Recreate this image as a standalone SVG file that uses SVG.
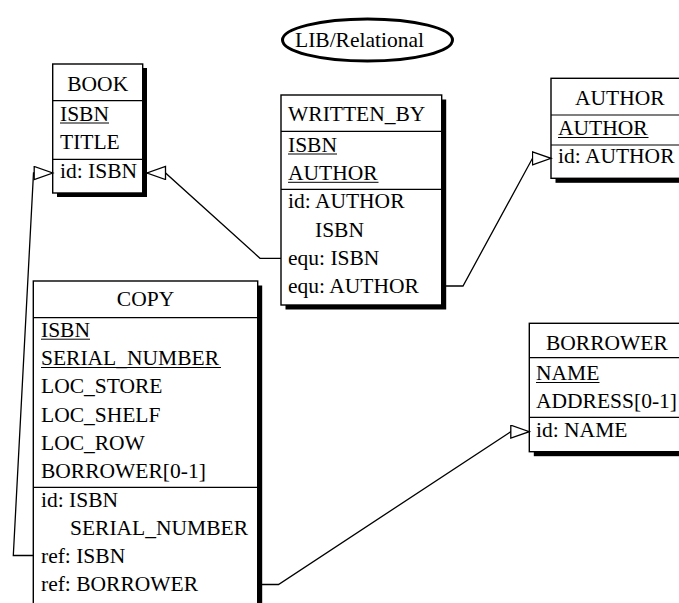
<svg xmlns="http://www.w3.org/2000/svg" width="679" height="603" viewBox="0 0 679 603" font-family="'Liberation Serif', 'Times New Roman', Times, serif" font-size="21.5">
<style>
text{font-family:"Liberation Serif","Times New Roman",Times,serif;font-size:21.5px;fill:#000}
.box{fill:#fff;stroke:#000;stroke-width:1.4}
.sh{fill:#000}
.sep{stroke:#000;stroke-width:1.2}
.ul{stroke:#000;stroke-width:1}
.hd{text-anchor:middle}
.c{fill:none;stroke:#000;stroke-width:1.3}
</style>
<defs>
<marker id="tri" markerUnits="userSpaceOnUse" markerWidth="22" markerHeight="16" viewBox="0 0 22 16" refX="19.5" refY="7" orient="auto">
<path d="M1,0.5 L19.5,7 L1,13.5 Z" fill="#fff" stroke="#000" stroke-width="1.3"/>
</marker>
</defs>
<rect width="679" height="603" fill="#fff"/>
<g id="title">
<ellipse cx="367.5" cy="40" rx="85" ry="21" fill="#fff" stroke="#000" stroke-width="3"/>
<text x="295" y="46.5">LIB/Relational</text>
</g>
<g id="BOOK">
<rect class="sh" x="57" y="68" width="90" height="129"/>
<rect class="box" x="52.7" y="64" width="90" height="129"/>
<line class="sep" x1="52.7" y1="100.6" x2="142.7" y2="100.6"/>
<line class="sep" x1="52.7" y1="159.3" x2="142.7" y2="159.3"/>
<text class="hd" x="97.7" y="91">BOOK</text>
<text x="60" y="120.5">ISBN</text>
<line class="ul" x1="60" y1="123" x2="109" y2="123"/>
<text x="60" y="148.8">TITLE</text>
<text x="60" y="177.6">id: ISBN</text>
</g>
<g id="WRITTEN_BY">
<rect class="sh" x="285.5" y="99.5" width="160.7" height="210"/>
<rect class="box" x="281" y="95" width="160.7" height="210"/>
<line class="sep" x1="281" y1="131.3" x2="441.7" y2="131.3"/>
<line class="sep" x1="281" y1="189.3" x2="441.7" y2="189.3"/>
<text x="288" y="120.7">WRITTEN_BY</text>
<text x="288" y="151.5">ISBN</text>
<line class="ul" x1="288" y1="154" x2="337" y2="154"/>
<text x="288" y="179.8">AUTHOR</text>
<line class="ul" x1="288" y1="182.3" x2="378.5" y2="182.3"/>
<text x="288" y="208.2">id: AUTHOR</text>
<text x="315" y="236.5">ISBN</text>
<text x="288" y="264.8">equ: ISBN</text>
<text x="288" y="293">equ: AUTHOR</text>
</g>
<g id="AUTHOR">
<rect class="sh" x="555.5" y="82.8" width="150" height="100"/>
<rect class="box" x="551" y="78.3" width="150" height="100"/>
<line class="sep" x1="551" y1="115" x2="701" y2="115"/>
<line class="sep" x1="551" y1="145" x2="701" y2="145"/>
<text x="575" y="105">AUTHOR</text>
<text x="558" y="135">AUTHOR</text>
<line class="ul" x1="558" y1="137.5" x2="648.5" y2="137.5"/>
<text x="558" y="163.3">id: AUTHOR</text>
</g>
<g id="COPY">
<rect class="sh" x="37.8" y="285.5" width="224.4" height="340"/>
<rect class="box" x="33.3" y="281" width="224.4" height="340"/>
<line class="sep" x1="33.3" y1="317.7" x2="257.7" y2="317.7"/>
<line class="sep" x1="33.3" y1="487.3" x2="257.7" y2="487.3"/>
<text class="hd" x="145.5" y="305.5">COPY</text>
<text x="41" y="336.7">ISBN</text>
<line class="ul" x1="41" y1="339.2" x2="90" y2="339.2"/>
<text x="41" y="365">SERIAL_NUMBER</text>
<line class="ul" x1="41" y1="367.5" x2="221" y2="367.5"/>
<text x="41" y="393.3">LOC_STORE</text>
<text x="41" y="421.6">LOC_SHELF</text>
<text x="41" y="449.9">LOC_ROW</text>
<text x="41" y="478.2">BORROWER[0-1]</text>
<text x="41" y="506.5">id: ISBN</text>
<text x="70" y="534.8">SERIAL_NUMBER</text>
<text x="41" y="563.1">ref: ISBN</text>
<text x="41" y="591.4">ref: BORROWER</text>
</g>
<g id="BORROWER">
<rect class="sh" x="533.8" y="327.8" width="170" height="128.4"/>
<rect class="box" x="529.3" y="323.3" width="170" height="128.4"/>
<line class="sep" x1="529.3" y1="357.7" x2="699.3" y2="357.7"/>
<line class="sep" x1="529.3" y1="417.3" x2="699.3" y2="417.3"/>
<text x="546" y="350">BORROWER</text>
<text x="536" y="380">NAME</text>
<line class="ul" x1="536" y1="382.5" x2="599.5" y2="382.5"/>
<text x="536" y="408.3">ADDRESS[0-1]</text>
<text x="536" y="436.6">id: NAME</text>
</g>
<g id="connectors">
<path class="c" d="M33.3,555.5 H13.3 L33.5,173 H52.7" marker-end="url(#tri)"/>
<path class="c" d="M281,258.3 H260 L165.5,173 H147" marker-end="url(#tri)"/>
<path class="c" d="M441.7,286 H463 L532.5,158.3 H551" marker-end="url(#tri)"/>
<path class="c" d="M257.7,584.5 H278.5 L510.8,431.7 H529.3" marker-end="url(#tri)"/>
</g>
</svg>
